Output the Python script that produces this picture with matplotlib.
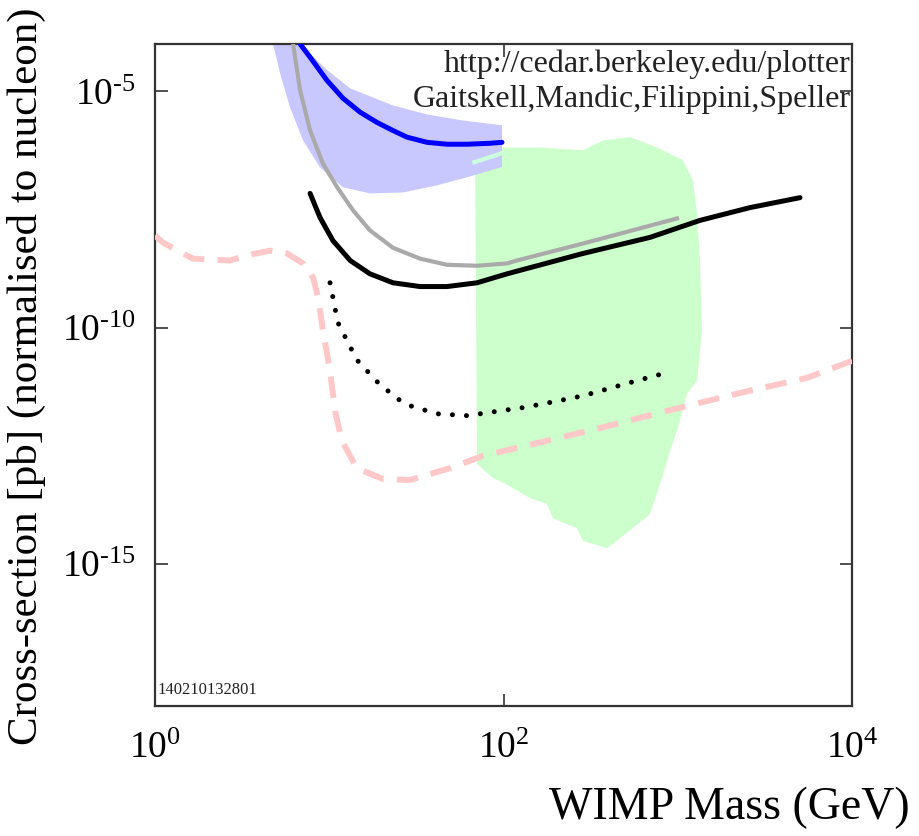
import matplotlib
matplotlib.use("Agg")
import matplotlib.pyplot as plt
import numpy as np

plt.rcParams['font.family'] = ['Liberation Serif', 'DejaVu Serif']
plt.rcParams['mathtext.fontset'] = 'custom'
plt.rcParams['mathtext.rm'] = 'Liberation Serif'
plt.rcParams['mathtext.it'] = 'Liberation Serif'

# WIMP mass (GeV) and log10 cross-section (pb) for each curve
blue_m = [6.8, 7.76, 9.7, 12.0, 15.0, 18.8, 23.2, 27.9, 36.4, 47.4, 61.8, 83.6, 98]
blue_s = [-4.0, -4.28, -4.77, -5.15, -5.44, -5.66, -5.83, -5.97, -6.08, -6.12, -6.12, -6.10, -6.08]

band_up_m = [6.8, 9.7, 13.2, 23.2, 36.4, 56.3, 98]
band_up_s = [-4.0, -4.55, -4.94, -5.30, -5.49, -5.61, -5.72]
band_lo_m = [4.76, 5.22, 5.95, 7.07, 8.85, 12.0, 17.1, 26.5, 41.5, 61.7, 98]
band_lo_s = [-4.0, -4.62, -5.34, -6.04, -6.61, -7.03, -7.16, -7.14, -6.99, -6.82, -6.60]

grey_m = [6.2, 6.8, 7.76, 9.2, 11.1, 13.7, 17.1, 23.2, 33.2, 47.4, 70.5, 105, 119, 286, 990]
grey_s = [-4.0, -4.98, -5.83, -6.53, -7.03, -7.52, -7.94, -8.31, -8.54, -8.67, -8.69, -8.64,
          -8.58, -8.22, -7.69]

black_m = [7.76, 8.85, 10.5, 13.2, 17.1, 23.2, 33.2, 47.4, 70.5, 105, 286, 693, 1343, 2600, 5030]
black_s = [-7.16, -7.67, -8.16, -8.58, -8.86, -9.05, -9.13, -9.13, -9.05, -8.86, -8.43, -8.09,
           -7.73, -7.46, -7.25]

dot_m = [10.1, 11.2, 14.4, 18.8, 24.5, 29.1, 41.5, 61.8, 129, 192, 286, 583, 867]
dot_s = [-9.05, -9.89, -10.68, -11.14, -11.50, -11.65, -11.82, -11.86, -11.69, -11.57, -11.44,
         -11.12, -10.95]

pink_m = [1.0, 1.11, 1.65, 2.69, 3.37, 4.57, 5.72, 7.07, 8.07, 8.63, 9.2, 10.1, 10.8, 11.8, 14.4,
          20.3, 29.1, 49.3, 76.3, 148, 358, 867, 2275, 5520, 10000]
pink_s = [-8.05, -8.20, -8.54, -8.58, -8.47, -8.37, -8.43, -8.64, -8.94, -9.36, -10.06, -10.91,
          -11.76, -12.39, -12.97, -13.20, -13.22, -12.97, -12.71, -12.46, -12.12, -11.76, -11.38,
          -11.06, -10.70]

seg_m = [68, 98]
seg_s = [-6.50, -6.31]

# theory region outline
green_m = [68.6, 162, 286, 372, 532, 760, 1072, 1222, 1290, 1343, 1378, 1290, 1130, 990,
           903, 791, 693, 467, 393, 286, 264, 192, 178, 142, 95.5, 87, 70.5]
green_s = [-6.19, -6.19, -6.25, -6.04, -5.97, -6.19, -6.46, -6.89, -7.58, -8.64, -10.06, -11.12,
           -11.40, -12.18, -12.61, -13.31, -13.94, -14.45, -14.66, -14.51, -14.24, -14.03, -13.73,
           -13.60, -13.24, -13.18, -12.88]

xticks = [1, 100, 10000]
xtick_labels = [r'$10^{0}$', r'$10^{2}$', r'$10^{4}$']
yticks = [1e-15, 1e-10, 1e-5]
ytick_labels = [r'$10^{\text{-15}}$', r'$10^{\text{-10}}$', r'$10^{\text{-5}}$']


def pb(vals):
    return [10.0 ** v for v in vals]


fig = plt.figure(figsize=(9.2, 8.36), dpi=100)
ax = fig.add_axes([0.1685, 0.1555, 0.7576, 0.7919])
ax.set_xscale('log')
ax.set_yscale('log')
ax.set_xlim(1, 1e4)
ax.set_ylim(1e-18, 1e-4)

ax.fill(green_m, pb(green_s), color='#ccffcc', lw=0, zorder=1)
ax.fill(band_up_m + band_lo_m[::-1], pb(band_up_s + band_lo_s[::-1]), color='#c8c8ff', lw=0, zorder=2)
ax.plot(seg_m, pb(seg_s), color='#ccffdd', lw=3, zorder=3)

ax.plot(pink_m, pb(pink_s), color='#ffc8c8', lw=4.3, linestyle=(0, (3.6, 2.2)), zorder=3)
ax.plot(grey_m, pb(grey_s), color='#aaaaaa', lw=3, zorder=4)
ax.plot(black_m, pb(black_s), color='black', lw=3.6, zorder=5, solid_capstyle='round')
ax.plot(dot_m, pb(dot_s), color='black', lw=3.6, linestyle=(0, (0.01, 2.8)),
        dash_capstyle='round', zorder=5)
ax.plot(blue_m, pb(blue_s), color='#0000ff', lw=3.6, zorder=6, solid_capstyle='round')

ax.set_xticks(xticks)
ax.set_xticklabels(xtick_labels)
ax.set_yticks(yticks)
ax.set_yticklabels(ytick_labels)
ax.minorticks_off()
ax.tick_params(which='major', direction='in', length=9, width=1.2, color='#333333',
               top=True, right=True, labelsize=27, pad=14)
ax.tick_params(axis='x', pad=18)
for sp in ax.spines.values():
    sp.set_linewidth(1.6)
    sp.set_color('#333333')

ax.set_ylabel('Cross-section [pb] (normalised to nucleon)', fontsize=31, va='center')
ax.yaxis.set_label_coords(-0.185, 0.498)
ax.set_xlabel('WIMP Mass (GeV)', fontsize=33)
ax.xaxis.label.set_ha('right')
ax.xaxis.label.set_va('center')
ax.xaxis.set_label_coords(1.083, -0.154)

ax.text(0.998, 0.969, 'http://cedar.berkeley.edu/plotter', transform=ax.transAxes,
        ha='right', va='center', fontsize=23, color='#222222', zorder=7)
ax.text(0.998, 0.916, 'Gaitskell,Mandic,Filippini,Speller', transform=ax.transAxes,
        ha='right', va='center', fontsize=23, color='#222222', zorder=7)
ax.text(0.003, 0.012, '140210132801', transform=ax.transAxes,
        ha='left', va='bottom', fontsize=12, color='#222222')

fig.savefig('out.png', dpi=100)
